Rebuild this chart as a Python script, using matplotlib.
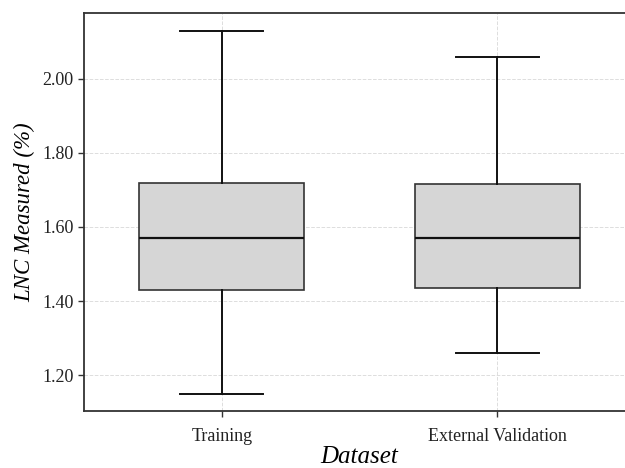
import matplotlib
matplotlib.use("Agg")
import matplotlib.pyplot as plt

plt.rcParams["font.family"] = ["Liberation Serif", "DejaVu Serif"]

# summary statistics of measured LNC (%) for each dataset
datasets = ["Training", "External Validation"]
whisker_low = [1.15, 1.26]
q1 = [1.43, 1.435]
median = [1.57, 1.57]
q3 = [1.72, 1.715]
whisker_high = [2.13, 2.06]
yticks = [1.20, 1.40, 1.60, 1.80, 2.00]

stats = []
for name, lo, a, m, b, hi in zip(datasets, whisker_low, q1, median, q3, whisker_high):
    stats.append(dict(label=name, whislo=lo, q1=a, med=m, q3=b, whishi=hi, fliers=[]))

fig = plt.figure(figsize=(6.25, 4.68), dpi=100)
# axes runs slightly past the right edge of the canvas
ax = fig.add_axes([84 / 625, 1 - 411 / 468, 551 / 625, 398 / 468])

ax.bxp(
    stats,
    positions=[0, 1],
    widths=0.6,
    patch_artist=True,
    showfliers=False,
    boxprops=dict(facecolor="#d6d6d6", edgecolor="#333333", linewidth=1.2),
    medianprops=dict(color="#111111", linewidth=1.6),
    whiskerprops=dict(color="#111111", linewidth=1.4),
    capprops=dict(color="#111111", linewidth=1.4),
    capwidths=0.3,
)

ax.set_xlim(-0.5, 1.5)
ax.set_ylim(1.103, 2.178)
ax.set_yticks(yticks)
ax.set_yticklabels([f"{v:.2f}" for v in yticks])
ax.set_xticks([0, 1])
ax.set_xticklabels(datasets)

ax.set_axisbelow(True)
ax.grid(True, linestyle="--", color="#dddddd", linewidth=0.7)

for side in ["left", "bottom", "top", "right"]:
    ax.spines[side].set_color("#333333")
    ax.spines[side].set_linewidth(1.3)

ax.tick_params(axis="both", labelsize=13, length=4, width=1, color="#333333", labelcolor="#222222")
ax.tick_params(axis="x", pad=8)

ax.set_xlabel("Dataset", fontsize=18, fontstyle="italic", labelpad=1)
ax.set_ylabel("LNC Measured (%)", fontsize=16.5, fontstyle="italic", labelpad=5)

fig.savefig("out.png", dpi=100)
